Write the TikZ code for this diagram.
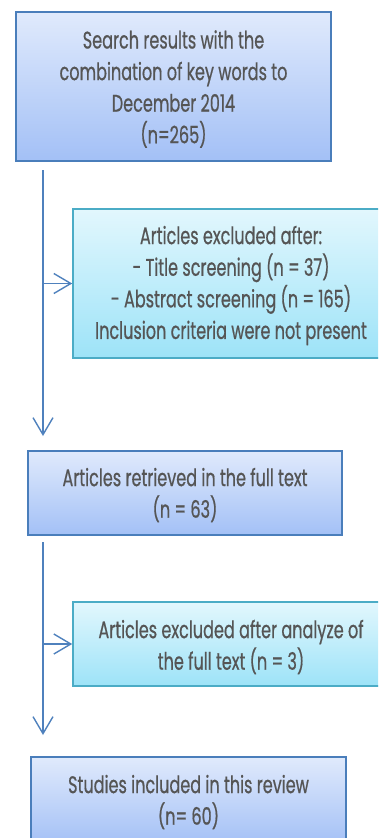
\documentclass[tikz,border=0pt]{standalone}
\usepackage{fontspec}
\setmainfont[FakeStretch=0.67,FakeBold=0.6]{Poppins}
\usetikzlibrary{arrows.meta}
\definecolor{txt}{HTML}{555555}
\definecolor{bborder}{HTML}{4A7EBB}
\definecolor{btop}{HTML}{E0EAFC}
\definecolor{bbot}{HTML}{A3C0F6}
\definecolor{cborder}{HTML}{4BACC6}
\definecolor{ctop}{HTML}{E2F7FD}
\definecolor{cbot}{HTML}{9DE3F8}
\definecolor{lne}{HTML}{4F81BD}
\tikzset{
  boxbase/.style={rectangle, line width=1.6pt, inner sep=0pt},
  bluebox/.style={boxbase, draw=bborder, top color=btop, bottom color=bbot},
  cyanbox/.style={boxbase, draw=cborder, top color=ctop, bottom color=cbot},
  boxtext/.style={align=center, text=txt, font=\fontsize{24}{31.6}\selectfont, inner sep=0pt},
  arr/.style={draw=lne, line width=1.4pt, -{Straight Barb[length=17pt,width=20pt,line width=1.4pt]}}
}
\begin{document}
\begin{tikzpicture}[x=1pt,y=-1pt]
\useasboundingbox (0,0) rectangle (378,838);
\clip (0,0) rectangle (378,838);
\node[bluebox, minimum width=315pt, minimum height=149pt] (b1) at (173.5,86.5) {};
\node[boxtext] (t1) at (173.5,89)
  {Search results with the\\combination of key words to\\December 2014\\(n=265)};
\node[cyanbox, minimum width=316pt, minimum height=149pt] (b2) at (231,283.5) {};
\node[boxtext] (t2) at (231,285.5)
  {Articles excluded after:\\- Title screening (n = 37)\\- Abstract screening (n = 165)\\Inclusion criteria were not present};
\node[bluebox, minimum width=314pt, minimum height=84pt] (b3) at (185,493) {};
\node[boxtext] (t3) at (185,495)
  {Articles retrieved in the full text\\(n = 63)};
\node[cyanbox, minimum width=316pt, minimum height=84pt] (b4) at (231,644) {};
\node[boxtext] (t4) at (231,647)
  {Articles excluded after analyze of\\the full text (n = 3)};
\node[bluebox, minimum width=315pt, minimum height=88pt] (b5) at (188.5,801) {};
\node[boxtext] (t5) at (188.5,802)
  {Studies included in this review\\(n= 60)};
\coordinate (s1) at (43,170);
\coordinate (e1) at (43,436);
\coordinate (s2) at (43,542);
\coordinate (e2) at (43,735);
\draw[arr] (s1) -- (e1);
\draw[arr] (s1 |- b2.west) -- (b2.west);
\draw[arr] (s2) -- (e2);
\draw[arr] (s2 |- b4.west) -- (b4.west);
\end{tikzpicture}
\end{document}
